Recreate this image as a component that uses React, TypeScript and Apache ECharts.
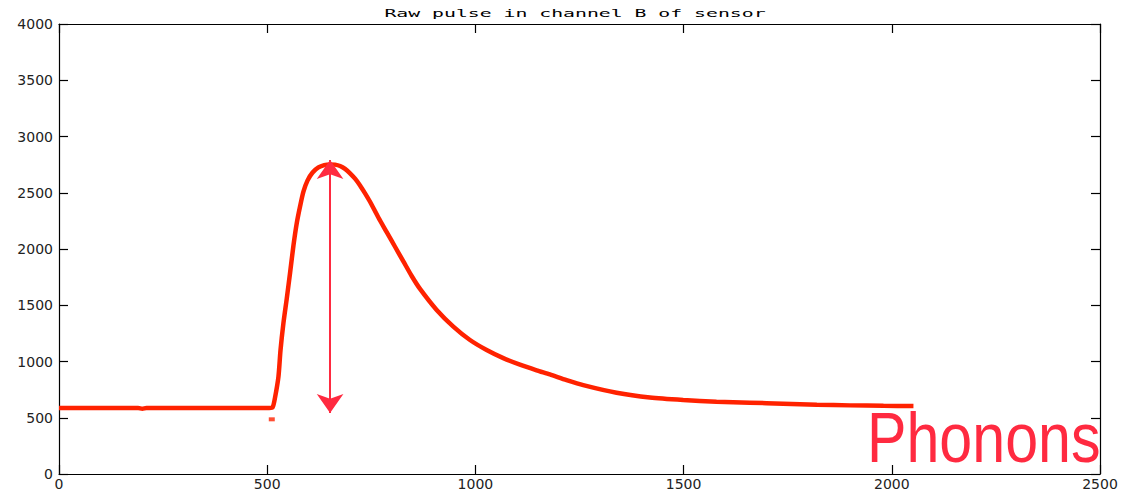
import React, { useEffect, useRef } from "react";
import * as echarts from "echarts";

// Sample index and raw ADC value along the recorded pulse
const pulseX = [
  0, 190, 200, 210, 505, 513, 519, 527, 532, 539, 547, 555, 563, 571, 579, 587,
  597, 609, 623, 637, 651, 663, 675, 687, 699, 711, 723, 735, 747, 767, 787,
  807, 827, 847, 867, 907, 947, 987, 1027, 1067, 1107, 1147, 1179, 1219, 1259,
  1339, 1419, 1499, 1579, 1659, 1739, 1820, 1900, 1980, 2052,
];
const pulseY = [
  587, 587, 580, 587, 587, 592, 684, 865, 1102, 1342, 1560, 1790, 2030, 2230,
  2380, 2510, 2610, 2680, 2725, 2746, 2752, 2750, 2738, 2712, 2673, 2625, 2565,
  2495, 2420, 2280, 2150, 2020, 1890, 1760, 1645, 1458, 1310, 1191, 1102, 1030,
  972, 922, 885, 835, 790, 722, 680, 658, 643, 634, 625, 616, 610, 606, 604,
];

// Isolated low sample just before the rise
const strayX = [511];
const strayY = [486];

// Amplitude arrow: from the baseline region up to the pulse maximum
const arrowX = 651;
const arrowFrom = 542;
const arrowTo = 2791;

const xMin = 0;
const xMax = 2500;
const yMin = 0;
const yMax = 4000;
const tickStep = 500;

const titleText = "Raw pulse in channel B of sensor";
const labelText = "Phonons";

export default function App() {
  const ref = useRef<HTMLDivElement>(null);

  useEffect(() => {
    if (!ref.current) return;
    const chart = echarts.init(ref.current, undefined, { renderer: "svg" });

    const frameAxis = {
      type: "value" as const,
      interval: tickStep,
      axisLine: { show: true, onZero: false, lineStyle: { color: "#000", width: 1.2 } },
      axisTick: { show: true, inside: true, length: 9, lineStyle: { color: "#000", width: 1.2 } },
      splitLine: { show: false },
    };
    const labelStyle = {
      fontFamily: "DejaVu Sans",
      fontSize: 14,
      color: "#222",
      formatter: (v: number) => String(v),
    };

    chart.setOption({
      animation: false,
      backgroundColor: "#fff",
      grid: { left: 59, right: 21, top: 24, bottom: 20, containLabel: false },
      xAxis: [
        {
          ...frameAxis,
          min: xMin,
          max: xMax,
          position: "bottom",
          axisLabel: { ...labelStyle, margin: 3 },
        },
        {
          ...frameAxis,
          min: xMin,
          max: xMax,
          position: "top",
          axisLabel: { show: false },
        },
      ],
      yAxis: [
        {
          ...frameAxis,
          min: yMin,
          max: yMax,
          position: "left",
          axisLabel: { ...labelStyle, margin: 6 },
        },
        {
          ...frameAxis,
          min: yMin,
          max: yMax,
          position: "right",
          axisLabel: { show: false },
        },
      ],
      series: [
        {
          type: "line",
          data: pulseX.map((x, i) => [x, pulseY[i]]),
          showSymbol: false,
          symbol: "none",
          smooth: 0.25,
          lineStyle: { color: "#ff2200", width: 4.5, cap: "butt" },
          z: 3,
          markLine: {
            silent: true,
            symbol: ["arrow", "arrow"],
            symbolSize: [20, 19],
            label: { show: false },
            lineStyle: { color: "#ff2a40", width: 2, type: "solid" },
            data: [[{ coord: [arrowX, arrowFrom] }, { coord: [arrowX, arrowTo] }]],
            z: 5,
          },
        },
        {
          type: "scatter",
          data: strayX.map((x, i) => [x, strayY[i]]),
          symbol: "rect",
          symbolSize: [6, 4],
          itemStyle: { color: "#ff2200" },
          z: 3,
        },
      ],
      graphic: [
        {
          type: "text",
          x: 575,
          y: 13,
          scaleX: 1.8,
          style: {
            text: titleText,
            fontFamily: "DejaVu Sans Mono",
            fontSize: 11,
            fill: "#000",
            align: "center",
            verticalAlign: "middle",
          },
        },
        {
          type: "text",
          x: 867,
          y: 438,
          scaleX: 0.845,
          z: 10,
          style: {
            text: labelText,
            fontFamily: "Liberation Sans",
            fontSize: 70,
            fill: "#ff2a40",
            align: "left",
            verticalAlign: "middle",
          },
        },
      ],
    });

    return () => chart.dispose();
  }, []);

  return (
    <div
      ref={ref}
      style={{ position: "fixed", left: 0, top: 0, width: 1121, height: 494 }}
    />
  );
}
